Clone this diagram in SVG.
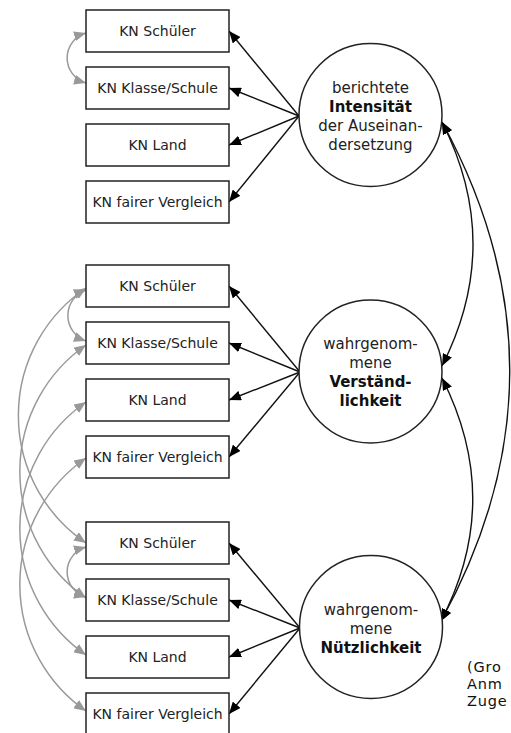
<svg xmlns="http://www.w3.org/2000/svg" width="511" height="733" viewBox="0 0 511 733">
<style>
.box{fill:#fff;stroke:#222;stroke-width:1.5}
.bt{font-family:"DejaVu Sans",Verdana,sans-serif;font-size:14px;fill:#222;text-anchor:middle}
.circ{fill:#fff;stroke:#222;stroke-width:1.5}
.ct{font-family:"DejaVu Sans",Verdana,sans-serif;font-size:15px;fill:#222;text-anchor:middle}
.b{font-weight:bold;fill:#111}
.blk{fill:none;stroke:#111;stroke-width:1.4;marker-end:url(#ab)}
.bi{fill:none;stroke:#111;stroke-width:1.4;marker-start:url(#ab);marker-end:url(#ab)}
.gr{fill:none;stroke:#999;stroke-width:1.5;marker-start:url(#ag);marker-end:url(#ag)}
.note{font-family:"DejaVu Sans",Verdana,sans-serif;font-size:14.5px;letter-spacing:0.8px;fill:#111}
</style>
<defs>
<marker id="ab" viewBox="0 0 12 10" refX="12" refY="5" markerWidth="12" markerHeight="10" markerUnits="userSpaceOnUse" orient="auto-start-reverse"><path d="M0,0 L12,5 L0,10 z" fill="#000"/></marker>
<marker id="ag" viewBox="0 0 12 10" refX="12" refY="5" markerWidth="12" markerHeight="10" markerUnits="userSpaceOnUse" orient="auto-start-reverse"><path d="M0,0 L12,5 L0,10 z" fill="#999"/></marker>
</defs>

<g id="connectors">
<path class="blk" d="M299,116 L229,31"/>
<path class="blk" d="M299,116 L229,88"/>
<path class="blk" d="M299,116 L229,145"/>
<path class="blk" d="M299,116 L229,202"/>
<path class="blk" d="M300,372 L229,286"/>
<path class="blk" d="M300,372 L229,343"/>
<path class="blk" d="M300,372 L229,400"/>
<path class="blk" d="M300,372 L229,457"/>
<path class="blk" d="M300,628 L229,543"/>
<path class="blk" d="M300,628 L229,600"/>
<path class="blk" d="M300,628 L229,657"/>
<path class="blk" d="M300,628 L229,714"/>
<path class="bi" d="M442,122 Q504,244 442,366"/>
<path class="bi" d="M442,378 Q504,500 441,621"/>
<path class="bi" d="M442,122 Q578,372 441,621"/>
<path class="gr" d="M86,33 A26,26 0 0 0 86,83"/>
<path class="gr" d="M86,290 A27,27 0 0 0 86,341"/>
<path class="gr" d="M86,547 A26,26 0 0 0 86,597"/>
<path class="gr" d="M86,288 A154,154 0 0 0 86,543"/>
<path class="gr" d="M86,345 A154,154 0 0 0 86,598"/>
<path class="gr" d="M86,402 A154,154 0 0 0 86,655"/>
<path class="gr" d="M86,458 A154,154 0 0 0 86,711"/>
</g>

<g id="n1s"><rect class="box" x="86" y="10" width="143" height="42"/><text class="bt" x="157.5" y="36">KN Schüler</text></g>
<g id="n1k"><rect class="box" x="86" y="67" width="143" height="42"/><text class="bt" x="157.5" y="93">KN Klasse/Schule</text></g>
<g id="n1l"><rect class="box" x="86" y="124" width="143" height="42"/><text class="bt" x="157.5" y="150">KN Land</text></g>
<g id="n1f"><rect class="box" x="86" y="181" width="143" height="42"/><text class="bt" x="157.5" y="207">KN fairer Vergleich</text></g>

<g id="n2s"><rect class="box" x="86" y="265" width="143" height="42"/><text class="bt" x="157.5" y="291">KN Schüler</text></g>
<g id="n2k"><rect class="box" x="86" y="322" width="143" height="42"/><text class="bt" x="157.5" y="348">KN Klasse/Schule</text></g>
<g id="n2l"><rect class="box" x="86" y="379" width="143" height="42"/><text class="bt" x="157.5" y="405">KN Land</text></g>
<g id="n2f"><rect class="box" x="86" y="436" width="143" height="42"/><text class="bt" x="157.5" y="462">KN fairer Vergleich</text></g>

<g id="n3s"><rect class="box" x="86" y="522" width="143" height="42"/><text class="bt" x="157.5" y="548">KN Schüler</text></g>
<g id="n3k"><rect class="box" x="86" y="579" width="143" height="42"/><text class="bt" x="157.5" y="605">KN Klasse/Schule</text></g>
<g id="n3l"><rect class="box" x="86" y="636" width="143" height="42"/><text class="bt" x="157.5" y="662">KN Land</text></g>
<g id="n3f"><rect class="box" x="86" y="693" width="143" height="42"/><text class="bt" x="157.5" y="719">KN fairer Vergleich</text></g>

<g id="f1"><circle class="circ" cx="370.5" cy="115" r="71.5"/>
<text class="ct" x="370.5" y="93">berichtete</text>
<text class="ct b" x="370.5" y="112">Intensität</text>
<text class="ct" x="370.5" y="131">der Auseinan-</text>
<text class="ct" x="370.5" y="150">dersetzung</text></g>

<g id="f2"><circle class="circ" cx="370.5" cy="371.5" r="71.5"/>
<text class="ct" x="370.5" y="349">wahrgenom-</text>
<text class="ct" x="370.5" y="368">mene</text>
<text class="ct b" x="370.5" y="387">Verständ-</text>
<text class="ct b" x="370.5" y="406">lichkeit</text></g>

<g id="f3"><circle class="circ" cx="371" cy="627" r="71.5"/>
<text class="ct" x="371" y="615">wahrgenom-</text>
<text class="ct" x="371" y="634">mene</text>
<text class="ct b" x="371" y="653">Nützlichkeit</text></g>

<g id="note">
<text class="note" x="467" y="672">(Gro</text>
<text class="note" x="467" y="689">Anm</text>
<text class="note" x="467" y="706">Zuge</text>
</g>
</svg>
